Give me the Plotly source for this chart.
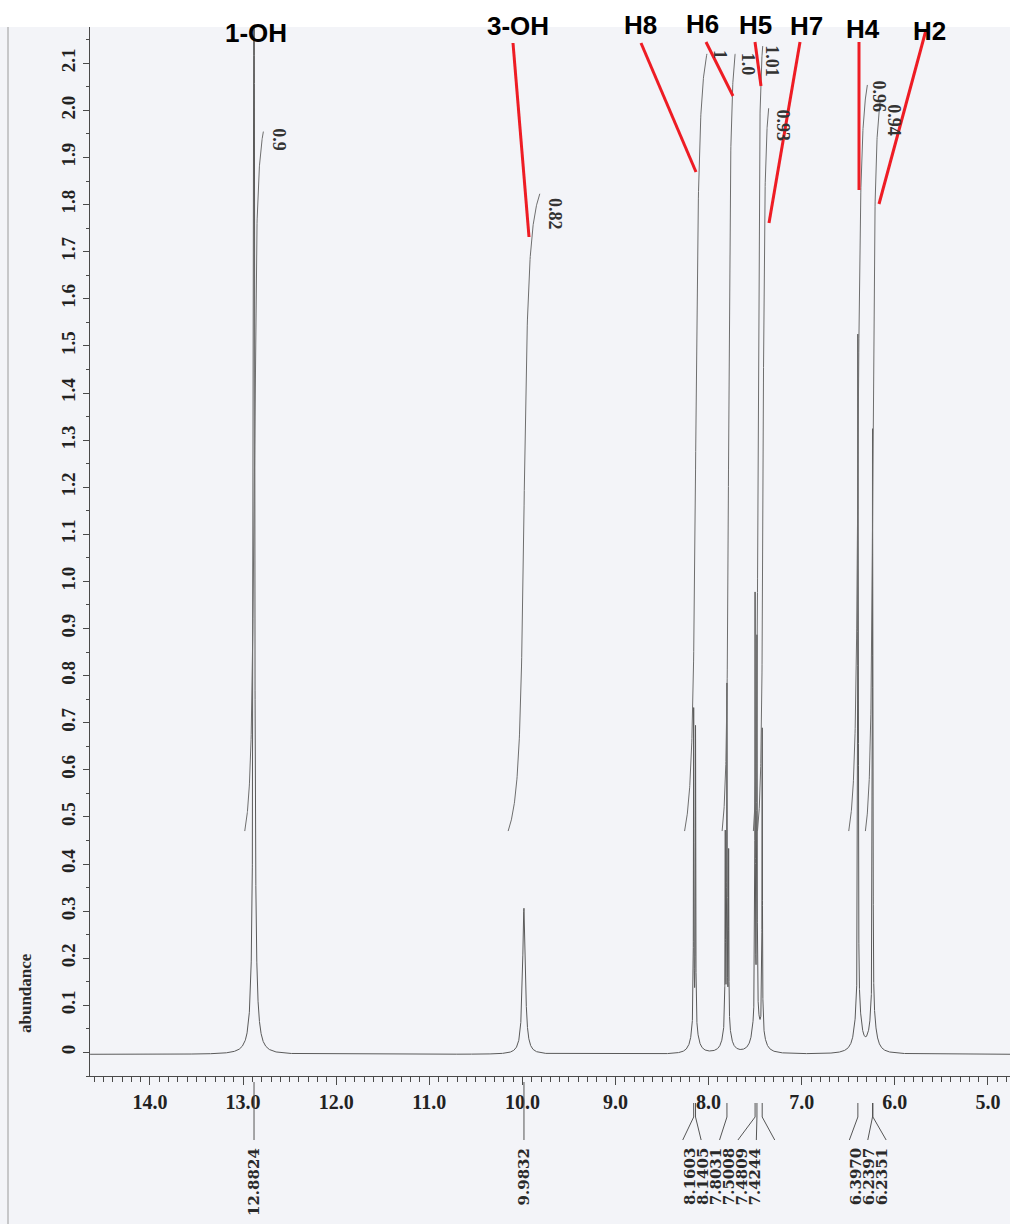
import numpy as np
import plotly.graph_objects as go

# ---------------- data ----------------
# individual lines: chemical shift (ppm), height (abundance), half width (ppm)
peak_ppm = [12.8824, 9.9832, 8.1603, 8.1405, 7.8210, 7.8031, 7.7850,
            7.5008, 7.4809, 7.4244, 6.3970, 6.3924, 6.2397, 6.2351]
peak_height = [3.00, 0.31, 0.70, 0.66, 0.42, 0.74, 0.38,
               0.93, 0.83, 0.67, 1.34, 0.92, 1.18, 0.71]
peak_hwhm = [0.006, 0.017, 0.0025, 0.0025, 0.0025, 0.0025, 0.0025,
             0.0025, 0.0025, 0.0025, 0.002, 0.002, 0.002, 0.002]
baseline_level = -0.004

# peak-pick labels printed under the axis, in their groups
label_groups = [["12.8824"], ["9.9832"],
                ["8.1603", "8.1405", "7.8031", "7.5008", "7.4809", "7.4244"],
                ["6.3970", "6.2397", "6.2351"]]

# integrals: centre (ppm), value, printed text
int_center = [12.882, 9.983, 8.138, 7.785, 7.469, 7.415, 6.395, 6.236]
int_value = [0.9, 0.82, 1.0, 1.0, 1.01, 0.93, 0.96, 0.94]
int_text = ["0.9", "0.82", "1", "1.0", "1.01", "0.93", "0.96", "0.94"]
int_base = 0.47          # integral curves start at this abundance
int_scale = 1.65         # abundance per integral unit

# assignments
assign_text = ["1-OH", "3-OH", "H8", "H6", "H5", "H7", "H4", "H2"]

# axis ticks
y_tick_vals = [0.0, 0.1, 0.2, 0.3, 0.4, 0.5, 0.6, 0.7, 0.8, 0.9, 1.0,
               1.1, 1.2, 1.3, 1.4, 1.5, 1.6, 1.7, 1.8, 1.9, 2.0, 2.1]
y_tick_text = ["0", "0.1", "0.2", "0.3", "0.4", "0.5", "0.6", "0.7", "0.8", "0.9", "1.0",
               "1.1", "1.2", "1.3", "1.4", "1.5", "1.6", "1.7", "1.8", "1.9", "2.0", "2.1"]

# ---------------- layout geometry / style ----------------
W, H = 1010, 1224
LM, RM, TM, BM = 90, 0, 27, 148
PW, PH = W - LM - RM, H - TM - BM
X_RANGE = [14.644, 4.763]
Y_RANGE = [-0.050, 2.177]

FOOT_FRAC, FOOT_HWHM = 0.05, 0.035
INT_HALF = [0.10, 0.17, 0.12, 0.07, 0.05, 0.06, 0.10, 0.08]
INT_LABEL_OFF = [(16, 8), (15, 20), (13, 1), (13, 10), (9, 15), (14, 17), (12, 12), (13, 20)]

# assignment label centres and red pointer lines, pixel positions
ASSIGN_POS = [(256, 33), (518, 26), (640, 25), (702, 24), (755, 25), (806, 26), (863, 29), (929, 31)]
POINTERS = [None, ((513, 43), (529, 237)), ((641, 43), (696, 172)), ((706, 42), (733, 96)),
            ((755, 42), (761, 86)), ((800, 42), (769, 223)), ((859, 42), (859, 190)),
            ((926, 30), (879, 204))]

LABEL_SPACING, DIAG_SPACING = 13.1, 18.4
LABEL_SHIFT = [2, 1, -9.5, 1]
DIAG_SHIFT = [2, 1, -3, 0]
LABEL_TOP = 1146

SERIF = "Times New Roman, Liberation Serif, serif"
WIDE_SERIF = "DejaVu Serif, serif"
SANS = "Arial, Liberation Sans, sans-serif"
AXCOL = "#4a4a4a"


def paper_x(px):
    return (px - LM) / PW


def paper_y(py):
    return (H - BM - py) / PH


def ppm_to_px(p):
    return LM + (X_RANGE[0] - p) / (X_RANGE[0] - X_RANGE[1]) * PW


def val_to_py(v):
    return (H - BM) - (v - Y_RANGE[0]) / (Y_RANGE[1] - Y_RANGE[0]) * PH


# ---------------- spectrum ----------------
parts = [np.arange(X_RANGE[1], X_RANGE[0], 0.002)]
for p in peak_ppm:
    parts.append(np.arange(p - 0.08, p + 0.08, 0.0002))
grid = np.unique(np.round(np.concatenate(parts), 5))
spec = np.full_like(grid, baseline_level)
for p, h, g in zip(peak_ppm, peak_height, peak_hwhm):
    d2 = (grid - p) ** 2
    spec += h * ((1 - FOOT_FRAC) * g * g / (d2 + g * g) + FOOT_FRAC * FOOT_HWHM ** 2 / (d2 + FOOT_HWHM ** 2))

fig = go.Figure()
fig.add_trace(go.Scatter(x=grid, y=spec, mode="lines",
                         line=dict(color="#5a5a5a", width=1), hoverinfo="skip", showlegend=False))

# ---------------- integral curves ----------------
annotations = []
for c, n, t, half, (dx, dy) in zip(int_center, int_value, int_text, INT_HALF, INT_LABEL_OFF):
    w = half / 5.0
    xs = np.linspace(c + half, c - half, 160)
    a = np.arctan((c - xs) / w)
    f = (a - a[0]) / (a[-1] - a[0])
    ys = int_base + int_scale * n * f
    fig.add_trace(go.Scatter(x=xs, y=ys, mode="lines",
                             line=dict(color="#6e6e6e", width=1), hoverinfo="skip", showlegend=False))
    ex, ey = ppm_to_px(c - half), val_to_py(ys[-1])
    annotations.append(dict(x=paper_x(ex + dx), y=paper_y(ey + dy), xref="paper", yref="paper",
                            text=t, showarrow=False, textangle=90, xanchor="center", yanchor="middle",
                            font=dict(family=SERIF, size=18, color="#333333", weight="bold")))

# ---------------- assignments and red pointers ----------------
shapes = []
# scanned-page background and page edge
shapes.append(dict(type="rect", xref="paper", yref="paper", x0=paper_x(0), x1=paper_x(W),
                   y0=paper_y(H), y1=paper_y(TM), fillcolor="#f3f4f8", line=dict(width=0), layer="below"))
shapes.append(dict(type="line", xref="paper", yref="paper", x0=paper_x(8), x1=paper_x(8),
                   y0=paper_y(TM), y1=paper_y(H), line=dict(color="#9a9a9a", width=1), layer="below"))

for t, (cx, cy), ptr in zip(assign_text, ASSIGN_POS, POINTERS):
    if ptr is not None:
        (x0, y0), (x1, y1) = ptr
        shapes.append(dict(type="line", xref="paper", yref="paper", x0=paper_x(x0), y0=paper_y(y0),
                           x1=paper_x(x1), y1=paper_y(y1), line=dict(color="#ee1c24", width=3)))
    annotations.append(dict(x=paper_x(cx), y=paper_y(cy), xref="paper", yref="paper", text=t,
                            showarrow=False, xanchor="center", yanchor="middle",
                            font=dict(family=SANS, size=26, color="#000000", weight="bold")))

# ---------------- peak-pick tree under the axis ----------------
for gi, grp in enumerate(label_groups):
    vals = [float(s) for s in grp]
    n = len(vals)
    cpx = ppm_to_px(float(np.mean(vals)))
    for i, (s, v) in enumerate(zip(grp, vals)):
        ppx = ppm_to_px(v)
        lpx = cpx + LABEL_SHIFT[gi] + (i - (n - 1) / 2) * LABEL_SPACING
        dpx = cpx + DIAG_SHIFT[gi] + (i - (n - 1) / 2) * DIAG_SPACING
        if n == 1:
            shapes.append(dict(type="line", xref="paper", yref="paper", x0=paper_x(ppx), x1=paper_x(ppx),
                               y0=paper_y(1082), y1=paper_y(1140), line=dict(color="#555555", width=1)))
            lpx = ppx
        else:
            shapes.append(dict(type="line", xref="paper", yref="paper", x0=paper_x(ppx), x1=paper_x(ppx),
                               y0=paper_y(1103), y1=paper_y(1117), line=dict(color="#555555", width=1)))
            shapes.append(dict(type="line", xref="paper", yref="paper", x0=paper_x(ppx), x1=paper_x(dpx),
                               y0=paper_y(1117), y1=paper_y(1140), line=dict(color="#555555", width=1)))
        annotations.append(dict(x=paper_x(lpx), y=paper_y(LABEL_TOP), xref="paper", yref="paper", text=s,
                                showarrow=False, textangle=-90, xanchor="center", yanchor="top",
                                font=dict(family=WIDE_SERIF, size=15, color="#2a2a2a", weight="bold")))

# axis title
annotations.append(dict(x=paper_x(25), y=paper_y(993), xref="paper", yref="paper", text="abundance",
                        showarrow=False, textangle=-90, xanchor="center", yanchor="middle",
                        font=dict(family=SERIF, size=17, color="#2a2a2a", weight="bold")))

fig.update_layout(
    width=W, height=H,
    margin=dict(l=LM, r=RM, t=TM, b=BM, pad=0),
    paper_bgcolor="#ffffff", plot_bgcolor="rgba(0,0,0,0)",
    showlegend=False,
    shapes=shapes, annotations=annotations,
    xaxis=dict(range=X_RANGE, showgrid=False, zeroline=False, showline=True, linecolor=AXCOL, linewidth=1,
               ticks="outside", ticklen=8, tickcolor=AXCOL, tick0=0, dtick=1, tickformat=".1f",
               tickfont=dict(family=SERIF, size=20, color="#222222", weight="bold"),
               minor=dict(ticks="outside", ticklen=5, tickcolor=AXCOL, dtick=0.1, tick0=0, showgrid=False)),
    yaxis=dict(range=Y_RANGE, showgrid=False, zeroline=False, showline=True, linecolor=AXCOL, linewidth=1,
               ticks="outside", ticklen=6, tickcolor=AXCOL, tickmode="array",
               tickvals=y_tick_vals, ticktext=y_tick_text, tickangle=-90,
               tickfont=dict(family=SERIF, size=19, color="#222222", weight="bold"),
               minor=dict(ticks="outside", ticklen=3, tickcolor=AXCOL, tickmode="linear", tick0=0,
                          dtick=0.05, showgrid=False)),
)

fig.write_html("out.html")
